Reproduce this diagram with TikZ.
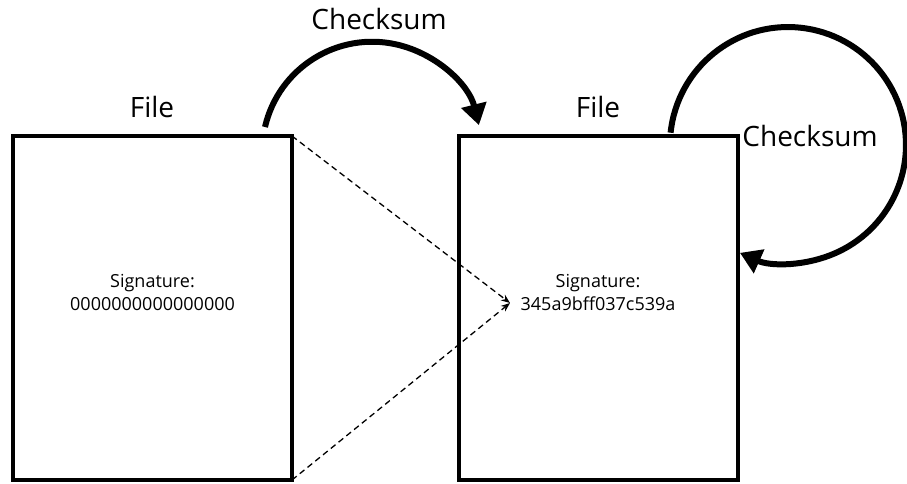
\documentclass[tikz,border=0pt]{standalone}
\usepackage{fontspec}
\setmainfont{Open Sans}
\usetikzlibrary{arrows.meta}
\begin{document}
\begin{tikzpicture}[x=1pt,y=-1pt,
  filebox/.style={draw, line width=4pt, minimum width=279pt, minimum height=344pt, inner sep=0pt, outer sep=0pt},
  sig/.style={align=center, font=\fontsize{18}{23}\selectfont, inner sep=0pt},
  big/.style={font=\fontsize{28}{32}\selectfont, inner sep=0pt},
  bigarrow/.style={line width=6pt, -{Triangle[length=21pt,width=25pt]}},
  dasharrow/.style={line width=1.3pt, dash pattern=on 6pt off 4pt, -{Stealth[length=9pt,width=7pt]}}]
\useasboundingbox (0,0) rectangle (907,483);
\node[filebox] (L) at (152.5,308) {};
\node[filebox] (R) at (598,308) {};
\node[sig] (Ls) at (152.5,292) {Signature:\\0000000000000000};
\node[sig] (Rs) at (598,292) {Signature:\\345a9bff037c539a};
\node[big] (Lf) at (152,107) {File};
\node[big] (Rf) at (598,107) {File};
\node[big] (C1) at (379,19) {Checksum};
\node[big] (C2) at (810,136) {Checksum};
\coordinate (a1) at (265,127);
\coordinate (a2) at (670.6,132.7);
\coordinate (m) at (510,303);
\draw[bigarrow] (a1) arc[start angle=-167, end angle=-14, radius=110];
\draw[bigarrow] (a2) arc[start angle=-174, end angle=114, radius=118];
\draw[dasharrow] (L.north east) -- (m);
\draw[dasharrow] (L.south east) -- (m);
\end{tikzpicture}
\end{document}
